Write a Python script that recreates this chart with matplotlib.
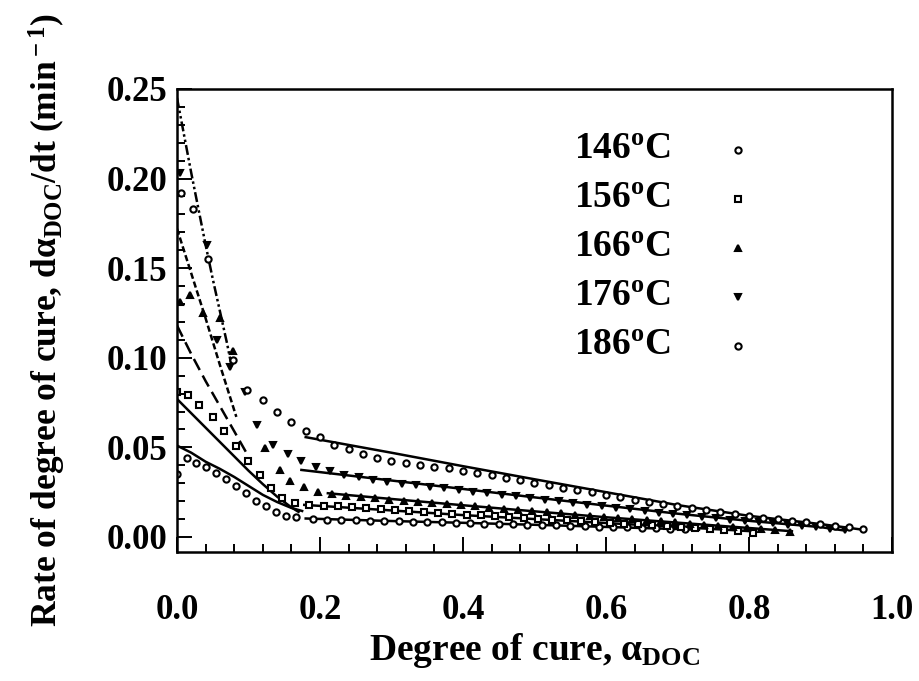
import matplotlib

matplotlib.use("Agg")
import matplotlib.pyplot as plt
from matplotlib.ticker import MultipleLocator

plt.rcParams["font.family"] = ["Liberation Serif", "DejaVu Serif"]
plt.rcParams["font.weight"] = "bold"
plt.rcParams["mathtext.fontset"] = "custom"
plt.rcParams["mathtext.rm"] = "Liberation Serif:bold"
plt.rcParams["mathtext.it"] = "Liberation Serif:bold"
plt.rcParams["mathtext.bf"] = "Liberation Serif:bold"

# ---- measured data (symbols) ----
x146 = [0.0, 0.014, 0.027, 0.04, 0.054, 0.068, 0.082, 0.096, 0.111, 0.125, 0.139, 0.153, 0.167,
        0.19, 0.21, 0.23, 0.25, 0.27, 0.29, 0.31, 0.33, 0.35, 0.37, 0.39, 0.41, 0.43, 0.45, 0.47,
        0.49, 0.51, 0.53, 0.55, 0.57, 0.59, 0.61, 0.63, 0.65, 0.67, 0.69, 0.71]
y146 = [0.035, 0.044, 0.0415, 0.039, 0.0356, 0.0324, 0.0285, 0.0244, 0.0203, 0.017, 0.0142, 0.0117, 0.011,
        0.0099, 0.0097, 0.0095, 0.0093, 0.0091, 0.0089, 0.0087, 0.0085, 0.0083, 0.0081, 0.0079, 0.0077,
        0.0075, 0.0073, 0.0071, 0.0069, 0.0066, 0.0064, 0.0062, 0.006, 0.0058, 0.0055, 0.0053, 0.0051,
        0.0048, 0.0046, 0.0043]

x156 = [0.0, 0.016, 0.031, 0.05, 0.066, 0.082, 0.1, 0.116, 0.132, 0.147, 0.165,
        0.185, 0.205, 0.225, 0.245, 0.265, 0.285, 0.305, 0.325, 0.345, 0.365, 0.385, 0.405, 0.425,
        0.445, 0.465, 0.485, 0.505, 0.525, 0.545, 0.565, 0.585, 0.605, 0.625, 0.645, 0.665, 0.685,
        0.705, 0.725, 0.745, 0.765, 0.785, 0.805]
y156 = [0.081, 0.079, 0.0737, 0.0669, 0.0592, 0.0508, 0.0426, 0.0346, 0.0272, 0.0216, 0.0188,
        0.0181, 0.0175, 0.017, 0.0165, 0.016, 0.0155, 0.015, 0.0145, 0.014, 0.0135, 0.013, 0.0125,
        0.012, 0.0115, 0.0111, 0.0106, 0.0101, 0.0097, 0.0092, 0.0088, 0.0083, 0.0079, 0.0074, 0.007,
        0.0065, 0.0061, 0.0056, 0.0051, 0.0046, 0.0041, 0.0035, 0.0022]

x166 = [0.004, 0.018, 0.036, 0.06, 0.078, 0.123, 0.144, 0.158,
        0.177, 0.197, 0.217, 0.237, 0.257, 0.277, 0.297, 0.317, 0.337, 0.357, 0.377, 0.397, 0.417,
        0.437, 0.457, 0.477, 0.497, 0.517, 0.537, 0.557, 0.577, 0.597, 0.617, 0.637, 0.657, 0.677,
        0.697, 0.717, 0.737, 0.757, 0.777, 0.797, 0.817, 0.837, 0.857]
y166 = [0.131, 0.135, 0.125, 0.122, 0.104, 0.0495, 0.0374, 0.031,
        0.0281, 0.0253, 0.0238, 0.0228, 0.0221, 0.0215, 0.0209, 0.0202, 0.0196, 0.019, 0.0184, 0.0177,
        0.0171, 0.0164, 0.0158, 0.0151, 0.0145, 0.0138, 0.0132, 0.0125, 0.0118, 0.0112, 0.0105, 0.0099,
        0.0093, 0.0087, 0.0081, 0.0075, 0.0069, 0.0063, 0.0057, 0.0051, 0.0044, 0.0037, 0.0028]

x176 = [0.004, 0.042, 0.056, 0.074, 0.095, 0.112, 0.134, 0.155,
        0.174, 0.194, 0.214, 0.234, 0.254, 0.274, 0.294, 0.314, 0.334, 0.354, 0.374, 0.394, 0.414,
        0.434, 0.454, 0.474, 0.494, 0.514, 0.534, 0.554, 0.574, 0.594, 0.614, 0.634, 0.654, 0.674,
        0.694, 0.714, 0.734, 0.754, 0.774, 0.794, 0.814, 0.834, 0.854, 0.874, 0.894, 0.914, 0.934]
y176 = [0.203, 0.163, 0.11, 0.095, 0.081, 0.0626, 0.0514, 0.0464,
        0.0426, 0.0393, 0.037, 0.0346, 0.0333, 0.0318, 0.0308, 0.0298, 0.0289, 0.028, 0.0271, 0.0262,
        0.0253, 0.0244, 0.0235, 0.0226, 0.0217, 0.0208, 0.0199, 0.019, 0.0181, 0.0172, 0.0163, 0.0154,
        0.0145, 0.0136, 0.0128, 0.012, 0.0112, 0.0104, 0.0097, 0.009, 0.0083, 0.0076, 0.0069, 0.0062,
        0.0055, 0.0047, 0.0038]

x186 = [0.005, 0.022, 0.043, 0.079, 0.098, 0.12, 0.14, 0.16,
        0.18, 0.2, 0.22, 0.24, 0.26, 0.28, 0.3, 0.32, 0.34, 0.36, 0.38, 0.4, 0.42, 0.44, 0.46, 0.48,
        0.5, 0.52, 0.54, 0.56, 0.58, 0.6, 0.62, 0.64, 0.66, 0.68, 0.7, 0.72, 0.74, 0.76, 0.78, 0.8,
        0.82, 0.84, 0.86, 0.88, 0.9, 0.92, 0.94, 0.96]
y186 = [0.192, 0.183, 0.155, 0.099, 0.082, 0.0765, 0.07, 0.0639,
        0.0592, 0.0557, 0.0514, 0.049, 0.0464, 0.0443, 0.0425, 0.0415, 0.0402, 0.0393, 0.0383, 0.037,
        0.0356, 0.0343, 0.033, 0.0316, 0.0302, 0.0289, 0.0276, 0.0262, 0.0249, 0.0236, 0.0222, 0.0209,
        0.0196, 0.0184, 0.0172, 0.016, 0.0149, 0.0138, 0.0128, 0.0118, 0.0108, 0.0099, 0.009, 0.0081,
        0.0072, 0.0063, 0.0054, 0.0046]

# ---- model curves: kinetic part (k) and diffusion part (d) ----
k146_x = [0.0, 0.02, 0.04, 0.06, 0.08, 0.1, 0.12, 0.14, 0.16, 0.175]
k146_y = [0.051, 0.047, 0.042, 0.038, 0.0335, 0.0285, 0.0235, 0.0195, 0.0162, 0.0145]
d146_x = [0.18, 0.3, 0.4, 0.5, 0.6, 0.7, 0.73]
d146_y = [0.0103, 0.0089, 0.0079, 0.0068, 0.0056, 0.0044, 0.004]

k156_x = [0.0, 0.02, 0.04, 0.06, 0.08, 0.1, 0.12, 0.14, 0.16, 0.17]
k156_y = [0.077, 0.069, 0.061, 0.053, 0.045, 0.037, 0.0295, 0.0225, 0.0165, 0.014]
d156_x = [0.178, 0.3, 0.4, 0.5, 0.6, 0.7, 0.8]
d156_y = [0.0179, 0.0148, 0.0122, 0.01, 0.0078, 0.0056, 0.0033]

k166_x = [0.0, 0.02, 0.04, 0.06, 0.08, 0.097]
k166_y = [0.118, 0.102, 0.087, 0.073, 0.059, 0.047]
d166_x = [0.211, 0.3, 0.4, 0.5, 0.6, 0.7, 0.8, 0.86]
d166_y = [0.0244, 0.0212, 0.0177, 0.0143, 0.011, 0.008, 0.005, 0.0032]

k176_x = [0.0, 0.02, 0.04, 0.06, 0.083]
k176_y = [0.172, 0.147, 0.122, 0.096, 0.067]
d176_x = [0.174, 0.3, 0.4, 0.5, 0.6, 0.7, 0.8, 0.9, 0.93]
d176_y = [0.0374, 0.0315, 0.0268, 0.0221, 0.0175, 0.013, 0.009, 0.0055, 0.0038]

k186_x = [0.0, 0.01, 0.02, 0.03, 0.04, 0.05, 0.06, 0.07, 0.077]
k186_y = [0.245, 0.224, 0.203, 0.183, 0.163, 0.144, 0.126, 0.108, 0.094]
d186_x = [0.18, 0.3, 0.4, 0.5, 0.6, 0.7, 0.8, 0.9, 0.96]
d186_y = [0.0557, 0.047, 0.0395, 0.0322, 0.025, 0.0178, 0.0118, 0.0072, 0.004]

labels = ["146$^{\\rm o}$C", "156$^{\\rm o}$C", "166$^{\\rm o}$C", "176$^{\\rm o}$C", "186$^{\\rm o}$C"]
legend_y = [0.2162, 0.1888, 0.1615, 0.1341, 0.1067]

fig = plt.figure(figsize=(9.19, 6.81), dpi=100)
ax = fig.add_axes([0.1926, 0.1894, 0.7780, 0.6800])

lw = 1.8
ax.plot(k146_x, k146_y, "k-", lw=lw)
ax.plot(d146_x, d146_y, "k-", lw=lw)
ax.plot(k156_x, k156_y, "k-", lw=lw)
ax.plot(d156_x, d156_y, "k-", lw=lw)
ax.plot(k166_x, k166_y, color="k", lw=lw, linestyle=(0, (5, 2.5)))
ax.plot(d166_x, d166_y, "k-", lw=lw)
ax.plot(k176_x, k176_y, color="k", lw=lw, linestyle=(0, (2.5, 1.2)))
ax.plot(d176_x, d176_y, "k-", lw=lw)
ax.plot(k186_x, k186_y, color="k", lw=lw, linestyle=(0, (4, 1.2, 1, 1.2, 1, 1.2)))
ax.plot(d186_x, d186_y, "k-", lw=lw)

ms = 4.5
styles = [("o", "white"), ("s", "white"), ("^", "k"), ("v", "k"), ("o", "white")]
series = [(x146, y146), (x156, y156), (x166, y166), (x176, y176), (x186, y186)]
for (xs, ys), (m, fc), lab, ly in zip(series, styles, labels, legend_y):
    ax.plot(xs, ys, linestyle="none", marker=m, ms=ms, mfc=fc, mec="k", mew=1.5)
    ax.plot([0.784], [ly], linestyle="none", marker=m, ms=ms, mfc=fc, mec="k", mew=1.5)
    ax.text(0.555, ly, lab, fontsize=27, fontweight="bold", va="center", ha="left")

ax.set_xlim(0, 1.0)
ax.set_ylim(-0.0084, 0.25)
ax.xaxis.set_major_locator(MultipleLocator(0.2))
ax.xaxis.set_minor_locator(MultipleLocator(0.04))
ax.yaxis.set_major_locator(MultipleLocator(0.05))
ax.yaxis.set_minor_locator(MultipleLocator(0.01))
ax.xaxis.set_major_formatter(plt.FuncFormatter(lambda v, p: f"{v:.1f}"))
ax.yaxis.set_major_formatter(plt.FuncFormatter(lambda v, p: f"{v:.2f}"))
ax.tick_params(which="both", direction="in", top=False, right=False, width=1.4)
ax.tick_params(which="major", length=11, labelsize=25)
ax.tick_params(axis="x", which="major", pad=30)
ax.tick_params(axis="y", which="major", pad=7)
ax.tick_params(which="minor", length=6)
for sp in ax.spines.values():
    sp.set_linewidth(1.8)

ax.set_xlabel("Degree of cure, $\\alpha_{\\rm DOC}$", fontsize=27, fontweight="bold", labelpad=3)
ax.set_ylabel("Rate of degree of cure, d$\\alpha_{\\rm DOC}$/dt (min$^{\\rm -1}$)",
              fontsize=25.5, fontweight="bold", labelpad=28)

fig.savefig("out.png", dpi=100)
